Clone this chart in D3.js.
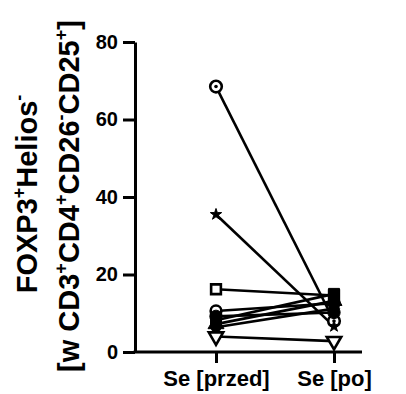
<!DOCTYPE html>
<html>
<head>
<meta charset="utf-8">
<script src="https://cdn.jsdelivr.net/npm/d3@7"></script>
<style>
  body { margin: 0; background: #fff; }
  text { font-family: "Liberation Sans", Arial, sans-serif; font-weight: bold; fill: #000; }
</style>
</head>
<body>
<div id="app"></div>
<script>

var categories = ["Se [przed]", "Se [po]"];
var subjects = ["s1", "s2", "s3", "s4", "s5", "s6", "s7", "s8", "s9"];
var przed = [68.5, 35.5, 16.2, 10.6, 9.2, 8.2, 7.2, 6.4, 4.0];
var po    = [8.0, 6.6, 14.6, 12.6, 10.2, 15.0, 13.2, 11.2, 2.8];
var yTicks = [0, 20, 40, 60, 80];

// marker per subject (style only)
var markers = {
    s1: { type: "circleDot" },
    s2: { type: "star" },
    s3: { type: "square", open: true },
    s4: { type: "circle", open: true },
    s5: { type: "circle" },
    s6: { type: "square" },
    s7: { type: "triangle" },
    s8: { type: "diamond" },
    s9: { type: "triangleDown", open: true }
};

var svg = d3.select("#app")
    .append("svg")
    .attr("width", 406)
    .attr("height", 394);

var y = d3.scaleLinear().domain([0, 80]).range([352, 42]);
var x = d3.scalePoint().domain(categories).range([216, 334]);

var axisLeftX = 135, axisRightX = 362;

// y axis
var gy = svg.append("g")
    .attr("transform", "translate(" + axisLeftX + ",0)")
    .call(d3.axisLeft(y).tickValues(yTicks).tickSize(12).tickPadding(5).tickSizeOuter(0));
gy.select(".domain").attr("stroke-width", 3).attr("stroke", "#000");
gy.selectAll(".tick line").attr("stroke-width", 3).attr("stroke", "#000");
gy.selectAll(".tick text")
    .style("font-size", "20px")
    .style("font-family", "'Liberation Sans', Arial, sans-serif")
    .style("font-weight", "bold");

// x axis
var gx = svg.append("g")
    .attr("transform", "translate(0," + y(0) + ")")
    .call(d3.axisBottom(x).tickSize(11).tickPadding(7));
gx.select(".domain").remove();
gx.append("line")
    .attr("x1", axisLeftX - 1.5).attr("x2", axisRightX)
    .attr("y1", 0).attr("y2", 0)
    .attr("stroke", "#000").attr("stroke-width", 3);
gx.selectAll(".tick line").attr("stroke-width", 3).attr("stroke", "#000");
gx.selectAll(".tick text")
    .style("font-size", "22px")
    .style("font-family", "'Liberation Sans', Arial, sans-serif")
    .style("font-weight", "bold");

// y label, two lines; superscripts marked with a dy shift
function supLabel(parts, xPos, yCenter) {
    var t = svg.append("text")
        .attr("transform", "translate(" + xPos + "," + yCenter + ") rotate(-90)")
        .attr("text-anchor", "middle")
        .style("font-size", "29px");
    parts.forEach(function (p) {
        var ts = t.append("tspan").text(p[0]);
        if (p[0] === "+" || p[0] === "-") ts.style("font-size", "18px");
        if (p[1]) ts.attr("dy", p[1]);
    });
}
supLabel([["FOXP3", 0], ["+", -12], ["Helios", 12], ["-", -12]], 37, 194);
supLabel([["[w CD3", 0], ["+", -12], ["CD4", 12], ["+", -12], ["CD26", 12], ["-", -12],
          ["CD25", 12], ["+", -12], ["]", 12]], 79, 196);

// lines
var pairs = subjects.map(function (s, i) {
    return { id: s, pre: przed[i], post: po[i] };
});

svg.append("g").selectAll("line")
    .data(pairs)
    .enter()
    .append("line")
    .attr("x1", x(categories[0]))
    .attr("x2", x(categories[1]))
    .attr("y1", function (d) { return y(d.pre); })
    .attr("y2", function (d) { return y(d.post); })
    .attr("stroke", "#000")
    .attr("stroke-width", 2.6);

// markers
function drawMarker(g, m) {
    var fill = m.open ? "#fff" : "#000";
    if (m.type === "circleDot") {
        g.append("circle").attr("r", 5.8).attr("fill", "#fff").attr("stroke", "#000").attr("stroke-width", 2.6);
        g.append("circle").attr("r", 1.8).attr("fill", "#000");
        return;
    }
    var sym, size, rot = 0;
    if (m.type === "star") { sym = d3.symbolStar; size = 40; }
    else if (m.type === "square") { sym = d3.symbolSquare; size = m.open ? 95 : 120; }
    else if (m.type === "circle") { sym = d3.symbolCircle; size = m.open ? 90 : 120; }
    else if (m.type === "triangle") { sym = d3.symbolTriangle; size = 110; }
    else if (m.type === "diamond") { sym = d3.symbolDiamond; size = 110; }
    else if (m.type === "triangleDown") { sym = d3.symbolTriangle; size = 90; rot = 180; }
    g.append("path")
        .attr("d", d3.symbol().type(sym).size(size)())
        .attr("transform", "rotate(" + rot + ")")
        .attr("fill", fill)
        .attr("stroke", "#000")
        .attr("stroke-width", m.open ? 2.6 : 1);
}

categories.forEach(function (cat, ci) {
    var groups = svg.append("g").selectAll("g")
        .data(pairs)
        .enter()
        .append("g")
        .attr("transform", function (d) {
            return "translate(" + x(cat) + "," + y(ci === 0 ? d.pre : d.post) + ")";
        });
    groups.each(function (d) { drawMarker(d3.select(this), markers[d.id]); });
});
</script>
</body>
</html>
